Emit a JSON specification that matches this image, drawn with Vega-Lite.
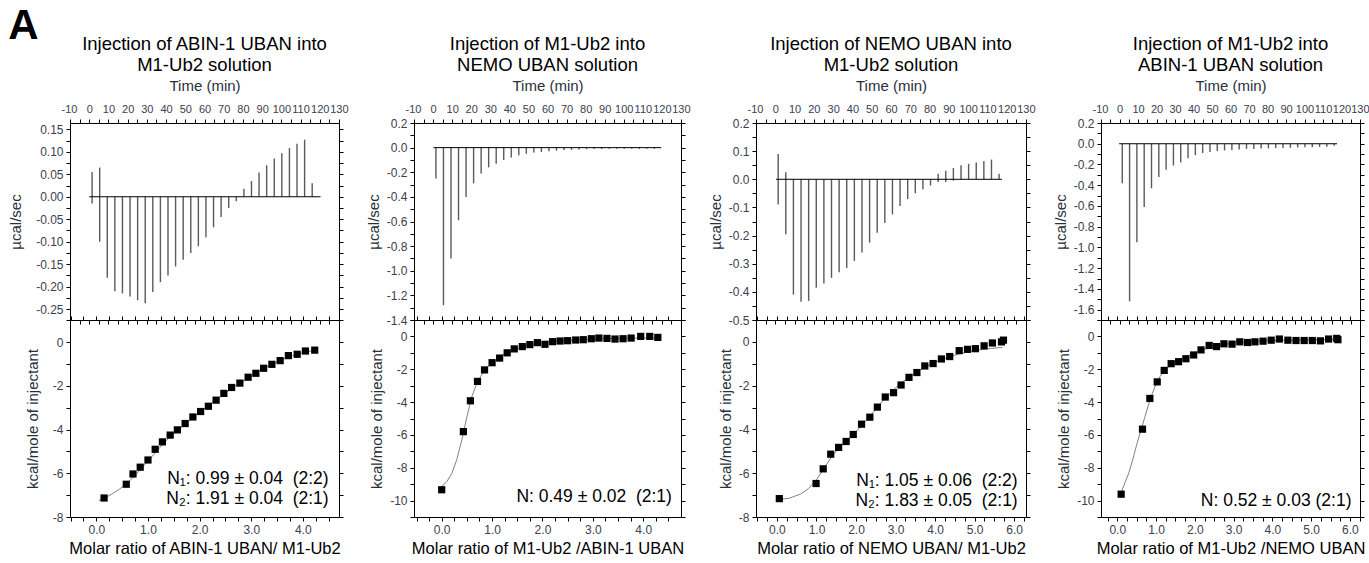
{
  "$schema": "https://vega.github.io/schema/vega-lite/v6.json",
  "background": "white",
  "padding": {"left": 8, "top": 5, "right": 0, "bottom": 2},
  "title": {"text": "A", "anchor": "start", "frame": "bounds", "fontSize": 42, "fontWeight": "bold", "font": "Liberation Sans", "color": "black", "offset": -14},
  "datasets": {
    "spk": [
      {"t": 1.5, "a_lo": -0.015, "a_hi": 0.055, "b_lo": -0.25, "b_hi": 0, "c_lo": -0.09, "c_hi": 0.09, "d_lo": -0.38, "d_hi": 0},
      {"t": 5.45, "a_lo": -0.1, "a_hi": 0.065, "b_lo": -1.28, "b_hi": 0, "c_lo": -0.195, "c_hi": 0.025, "d_lo": -1.52, "d_hi": 0},
      {"t": 9.4, "a_lo": -0.18, "a_hi": 0, "b_lo": -0.9, "b_hi": 0, "c_lo": -0.41, "c_hi": 0, "d_lo": -0.95, "d_hi": 0},
      {"t": 13.35, "a_lo": -0.21, "a_hi": 0, "b_lo": -0.59, "b_hi": 0, "c_lo": -0.435, "c_hi": 0, "d_lo": -0.61, "d_hi": 0},
      {"t": 17.3, "a_lo": -0.215, "a_hi": 0, "b_lo": -0.4, "b_hi": 0, "c_lo": -0.432, "c_hi": 0, "d_lo": -0.43, "d_hi": 0},
      {"t": 21.25, "a_lo": -0.222, "a_hi": 0, "b_lo": -0.29, "b_hi": 0, "c_lo": -0.385, "c_hi": 0, "d_lo": -0.32, "d_hi": 0},
      {"t": 25.2, "a_lo": -0.23, "a_hi": 0, "b_lo": -0.21, "b_hi": 0, "c_lo": -0.37, "c_hi": 0, "d_lo": -0.25, "d_hi": 0},
      {"t": 29.15, "a_lo": -0.237, "a_hi": 0, "b_lo": -0.16, "b_hi": 0, "c_lo": -0.35, "c_hi": 0, "d_lo": -0.21, "d_hi": 0},
      {"t": 33.1, "a_lo": -0.212, "a_hi": 0, "b_lo": -0.13, "b_hi": 0, "c_lo": -0.33, "c_hi": 0, "d_lo": -0.18, "d_hi": 0},
      {"t": 37.05, "a_lo": -0.19, "a_hi": 0, "b_lo": -0.1, "b_hi": 0, "c_lo": -0.315, "c_hi": 0, "d_lo": -0.14, "d_hi": 0},
      {"t": 41.0, "a_lo": -0.175, "a_hi": 0, "b_lo": -0.08, "b_hi": 0, "c_lo": -0.29, "c_hi": 0, "d_lo": -0.11, "d_hi": 0},
      {"t": 44.95, "a_lo": -0.155, "a_hi": 0, "b_lo": -0.062, "b_hi": 0, "c_lo": -0.26, "c_hi": 0, "d_lo": -0.09, "d_hi": 0},
      {"t": 48.9, "a_lo": -0.14, "a_hi": 0, "b_lo": -0.05, "b_hi": 0, "c_lo": -0.225, "c_hi": 0, "d_lo": -0.08, "d_hi": 0},
      {"t": 52.85, "a_lo": -0.125, "a_hi": 0, "b_lo": -0.04, "b_hi": 0, "c_lo": -0.19, "c_hi": 0, "d_lo": -0.07, "d_hi": 0},
      {"t": 56.8, "a_lo": -0.11, "a_hi": 0, "b_lo": -0.035, "b_hi": 0, "c_lo": -0.155, "c_hi": 0, "d_lo": -0.065, "d_hi": 0},
      {"t": 60.75, "a_lo": -0.09, "a_hi": 0, "b_lo": -0.03, "b_hi": 0, "c_lo": -0.125, "c_hi": 0, "d_lo": -0.06, "d_hi": 0},
      {"t": 64.7, "a_lo": -0.068, "a_hi": 0, "b_lo": -0.025, "b_hi": 0, "c_lo": -0.095, "c_hi": 0, "d_lo": -0.055, "d_hi": 0},
      {"t": 68.65, "a_lo": -0.045, "a_hi": 0, "b_lo": -0.02, "b_hi": 0, "c_lo": -0.07, "c_hi": 0, "d_lo": -0.05, "d_hi": 0},
      {"t": 72.6, "a_lo": -0.025, "a_hi": 0, "b_lo": -0.018, "b_hi": 0, "c_lo": -0.05, "c_hi": 0, "d_lo": -0.05, "d_hi": 0},
      {"t": 76.55, "a_lo": -0.01, "a_hi": 0, "b_lo": -0.015, "b_hi": 0, "c_lo": -0.035, "c_hi": 0, "d_lo": -0.045, "d_hi": 0},
      {"t": 80.5, "a_lo": 0, "a_hi": 0.018, "b_lo": -0.013, "b_hi": 0, "c_lo": -0.022, "c_hi": 0, "d_lo": -0.045, "d_hi": 0},
      {"t": 84.45, "a_lo": 0, "a_hi": 0.035, "b_lo": -0.012, "b_hi": 0, "c_lo": -0.01, "c_hi": 0.02, "d_lo": -0.04, "d_hi": 0},
      {"t": 88.4, "a_lo": 0, "a_hi": 0.054, "b_lo": -0.011, "b_hi": 0, "c_lo": -0.01, "c_hi": 0.03, "d_lo": -0.04, "d_hi": 0},
      {"t": 92.35, "a_lo": 0, "a_hi": 0.07, "b_lo": -0.01, "b_hi": 0, "c_lo": -0.005, "c_hi": 0.04, "d_lo": -0.04, "d_hi": 0},
      {"t": 96.3, "a_lo": 0, "a_hi": 0.085, "b_lo": -0.01, "b_hi": 0, "c_lo": 0, "c_hi": 0.05, "d_lo": -0.035, "d_hi": 0},
      {"t": 100.25, "a_lo": 0, "a_hi": 0.097, "b_lo": -0.01, "b_hi": 0, "c_lo": 0, "c_hi": 0.055, "d_lo": -0.035, "d_hi": 0},
      {"t": 104.2, "a_lo": 0, "a_hi": 0.108, "b_lo": -0.01, "b_hi": 0, "c_lo": 0, "c_hi": 0.06, "d_lo": -0.035, "d_hi": 0},
      {"t": 108.15, "a_lo": 0, "a_hi": 0.118, "b_lo": -0.01, "b_hi": 0, "c_lo": 0, "c_hi": 0.065, "d_lo": -0.03, "d_hi": 0},
      {"t": 112.1, "a_lo": 0, "a_hi": 0.127, "b_lo": -0.01, "b_hi": 0, "c_lo": 0, "c_hi": 0.07, "d_lo": -0.03, "d_hi": 0},
      {"t": 116.05, "a_lo": 0, "a_hi": 0.03, "b_lo": -0.01, "b_hi": 0, "c_lo": 0, "c_hi": 0.02, "d_lo": -0.02, "d_hi": 0}
    ],
    "base": [
      {"z": 0, "a0": 0, "a1": 120.4, "b0": 0.2, "b1": 119.6, "c0": 0.4, "c1": 117.6, "d0": -0.2, "d1": 117.6}
    ],
    "pts1": [
      {"x": 0.15, "y": -7.13}, {"x": 0.58, "y": -6.5}, {"x": 0.71, "y": -6.03}, {"x": 0.85, "y": -5.72},
      {"x": 1.0, "y": -5.39}, {"x": 1.14, "y": -4.9}, {"x": 1.28, "y": -4.56}, {"x": 1.43, "y": -4.25},
      {"x": 1.57, "y": -4.01}, {"x": 1.72, "y": -3.72}, {"x": 1.87, "y": -3.42}, {"x": 2.02, "y": -3.17},
      {"x": 2.17, "y": -2.93}, {"x": 2.32, "y": -2.65}, {"x": 2.47, "y": -2.34}, {"x": 2.62, "y": -2.07},
      {"x": 2.78, "y": -1.87}, {"x": 2.94, "y": -1.6}, {"x": 3.09, "y": -1.42}, {"x": 3.24, "y": -1.19},
      {"x": 3.4, "y": -1.01}, {"x": 3.56, "y": -0.84}, {"x": 3.72, "y": -0.61}, {"x": 3.89, "y": -0.55},
      {"x": 4.05, "y": -0.4}, {"x": 4.23, "y": -0.36}
    ],
    "fit1": [
      {"x": 0.05, "y": -7.25}, {"x": 0.15, "y": -7.15}, {"x": 0.3, "y": -6.95}, {"x": 0.45, "y": -6.72},
      {"x": 0.6, "y": -6.45}, {"x": 0.75, "y": -6.1}, {"x": 0.9, "y": -5.7}, {"x": 1.05, "y": -5.3},
      {"x": 1.2, "y": -4.9}, {"x": 1.35, "y": -4.5}, {"x": 1.5, "y": -4.2}, {"x": 1.65, "y": -3.9},
      {"x": 1.8, "y": -3.6}, {"x": 2.0, "y": -3.2}, {"x": 2.2, "y": -2.85}, {"x": 2.4, "y": -2.5},
      {"x": 2.6, "y": -2.15}, {"x": 2.8, "y": -1.85}, {"x": 3.0, "y": -1.55}, {"x": 3.2, "y": -1.25},
      {"x": 3.4, "y": -1.0}, {"x": 3.6, "y": -0.8}, {"x": 3.8, "y": -0.62}, {"x": 4.0, "y": -0.48},
      {"x": 4.25, "y": -0.35}
    ],
    "pts2": [
      {"x": 0.0, "y": -9.34}, {"x": 0.43, "y": -5.8}, {"x": 0.57, "y": -3.92}, {"x": 0.71, "y": -2.74},
      {"x": 0.85, "y": -2.04}, {"x": 1.0, "y": -1.6}, {"x": 1.15, "y": -1.32}, {"x": 1.3, "y": -1.0},
      {"x": 1.44, "y": -0.76}, {"x": 1.6, "y": -0.62}, {"x": 1.75, "y": -0.5}, {"x": 1.9, "y": -0.38},
      {"x": 2.05, "y": -0.48}, {"x": 2.2, "y": -0.32}, {"x": 2.35, "y": -0.28}, {"x": 2.5, "y": -0.26},
      {"x": 2.66, "y": -0.22}, {"x": 2.81, "y": -0.2}, {"x": 2.97, "y": -0.14}, {"x": 3.12, "y": -0.1},
      {"x": 3.28, "y": -0.12}, {"x": 3.44, "y": -0.16}, {"x": 3.6, "y": -0.14}, {"x": 3.76, "y": -0.1},
      {"x": 3.95, "y": 0.0}, {"x": 4.13, "y": 0.0}, {"x": 4.29, "y": -0.06}
    ],
    "fit2": [
      {"x": 0.0, "y": -9.15}, {"x": 0.1, "y": -8.85}, {"x": 0.2, "y": -8.35}, {"x": 0.3, "y": -7.5},
      {"x": 0.4, "y": -6.3}, {"x": 0.5, "y": -4.9}, {"x": 0.6, "y": -3.65}, {"x": 0.7, "y": -2.85},
      {"x": 0.8, "y": -2.3}, {"x": 0.9, "y": -1.9}, {"x": 1.0, "y": -1.6}, {"x": 1.2, "y": -1.15},
      {"x": 1.4, "y": -0.85}, {"x": 1.6, "y": -0.63}, {"x": 1.8, "y": -0.48}, {"x": 2.0, "y": -0.38},
      {"x": 2.5, "y": -0.24}, {"x": 3.0, "y": -0.16}, {"x": 3.5, "y": -0.12}, {"x": 4.0, "y": -0.09},
      {"x": 4.3, "y": -0.08}
    ],
    "pts3": [
      {"x": 0.06, "y": -7.16}, {"x": 0.99, "y": -6.47}, {"x": 1.17, "y": -5.8}, {"x": 1.36, "y": -5.13},
      {"x": 1.56, "y": -4.82}, {"x": 1.75, "y": -4.55}, {"x": 1.93, "y": -4.23}, {"x": 2.14, "y": -3.76},
      {"x": 2.35, "y": -3.44}, {"x": 2.54, "y": -2.98}, {"x": 2.74, "y": -2.52}, {"x": 2.95, "y": -2.32},
      {"x": 3.14, "y": -1.97}, {"x": 3.34, "y": -1.62}, {"x": 3.54, "y": -1.4}, {"x": 3.74, "y": -1.1},
      {"x": 3.95, "y": -0.99}, {"x": 4.16, "y": -0.78}, {"x": 4.37, "y": -0.67}, {"x": 4.61, "y": -0.4},
      {"x": 4.82, "y": -0.34}, {"x": 5.02, "y": -0.31}, {"x": 5.24, "y": -0.18}, {"x": 5.45, "y": -0.05},
      {"x": 5.68, "y": 0.0}, {"x": 5.73, "y": 0.08}
    ],
    "fit3": [
      {"x": 0.0, "y": -7.2}, {"x": 0.3, "y": -7.15}, {"x": 0.6, "y": -6.95}, {"x": 0.8, "y": -6.7},
      {"x": 1.0, "y": -6.3}, {"x": 1.2, "y": -5.75}, {"x": 1.4, "y": -5.2}, {"x": 1.6, "y": -4.8},
      {"x": 1.8, "y": -4.45}, {"x": 2.0, "y": -4.1}, {"x": 2.2, "y": -3.7}, {"x": 2.4, "y": -3.3},
      {"x": 2.6, "y": -2.85}, {"x": 2.8, "y": -2.45}, {"x": 3.0, "y": -2.1}, {"x": 3.2, "y": -1.8},
      {"x": 3.4, "y": -1.55}, {"x": 3.6, "y": -1.3}, {"x": 3.8, "y": -1.1}, {"x": 4.0, "y": -0.93},
      {"x": 4.3, "y": -0.72}, {"x": 4.6, "y": -0.55}, {"x": 5.0, "y": -0.4}, {"x": 5.4, "y": -0.3},
      {"x": 5.7, "y": -0.25}
    ],
    "pts4": [
      {"x": 0.1, "y": -9.61}, {"x": 0.65, "y": -5.65}, {"x": 0.84, "y": -3.78}, {"x": 1.03, "y": -2.77},
      {"x": 1.21, "y": -2.07}, {"x": 1.39, "y": -1.66}, {"x": 1.58, "y": -1.54}, {"x": 1.77, "y": -1.36},
      {"x": 1.97, "y": -1.13}, {"x": 2.16, "y": -0.82}, {"x": 2.37, "y": -0.55}, {"x": 2.56, "y": -0.62},
      {"x": 2.75, "y": -0.45}, {"x": 2.96, "y": -0.47}, {"x": 3.16, "y": -0.33}, {"x": 3.36, "y": -0.37},
      {"x": 3.55, "y": -0.33}, {"x": 3.76, "y": -0.29}, {"x": 3.97, "y": -0.23}, {"x": 4.18, "y": -0.16},
      {"x": 4.4, "y": -0.23}, {"x": 4.61, "y": -0.25}, {"x": 4.82, "y": -0.25}, {"x": 5.03, "y": -0.25},
      {"x": 5.24, "y": -0.27}, {"x": 5.45, "y": -0.16}, {"x": 5.66, "y": -0.12}, {"x": 5.69, "y": -0.2}
    ],
    "fit4": [
      {"x": 0.1, "y": -9.5}, {"x": 0.2, "y": -8.9}, {"x": 0.3, "y": -8.3}, {"x": 0.4, "y": -7.5},
      {"x": 0.5, "y": -6.6}, {"x": 0.6, "y": -5.8}, {"x": 0.7, "y": -5.0}, {"x": 0.8, "y": -4.2},
      {"x": 0.9, "y": -3.5}, {"x": 1.0, "y": -2.9}, {"x": 1.1, "y": -2.45}, {"x": 1.2, "y": -2.1},
      {"x": 1.4, "y": -1.7}, {"x": 1.6, "y": -1.4}, {"x": 1.8, "y": -1.2}, {"x": 2.0, "y": -1.0},
      {"x": 2.3, "y": -0.75}, {"x": 2.6, "y": -0.55}, {"x": 3.0, "y": -0.4}, {"x": 3.5, "y": -0.3},
      {"x": 4.0, "y": -0.25}, {"x": 5.0, "y": -0.2}, {"x": 5.7, "y": -0.18}
    ],
    "note1": [
      {"x": 4.5, "y": -6.27, "label": "N₁: 0.99 ± 0.04\u00a0\u00a0(2:2)"},
      {"x": 4.5, "y": -7.19, "label": "N₂: 1.91 ± 0.04\u00a0\u00a0(2:1)"}
    ],
    "note2": [
      {"x": 4.57, "y": -9.8, "label": "N: 0.49 ± 0.02\u00a0\u00a0(2:1)"}
    ],
    "note3": [
      {"x": 6.09, "y": -6.37, "label": "N₁: 1.05 ± 0.06\u00a0\u00a0(2:2)"},
      {"x": 6.09, "y": -7.28, "label": "N₂: 1.83 ± 0.05\u00a0\u00a0(2:1)"}
    ],
    "note4": [
      {"x": 6.04, "y": -10.0, "label": "N: 0.52 ± 0.03 (2:1)"}
    ]
  },
  "spacing": 16,
  "hconcat": [
    {
      "spacing": 0, "bounds": "flush",
      "vconcat": [
        {
          "width": 269, "height": 197,
          "title": {"text": ["Injection of ABIN-1 UBAN into", "M1-Ub2 solution"]},
          "layer": [
            {"data": {"name": "spk"}, "mark": {"type": "rule", "color": "#5a5a5a", "strokeWidth": 1.4},
             "encoding": {
               "x": {"field": "t", "type": "quantitative", "scale": {"domain": [-10, 130]}, "axis": {"orient": "top", "title": "Time (min)", "values": [-10,-5,0,5,10,15,20,25,30,35,40,45,50,55,60,65,70,75,80,85,90,95,100,105,110,115,120,125,130], "format": "d", "labelExpr": "datum.value % 10 === 0 ? replace(datum.label, '−', '-') : ''", "labelFlush": true, "labelFlushOffset": 9, "labelFontSize": 11, "titleFontSize": 15, "titlePadding": 10, "labelPadding": 5}},
               "y": {"field": "a_lo", "type": "quantitative", "scale": {"domain": [-0.274, 0.164]}, "axis": {"orient": "left", "title": "µcal/sec", "titlePadding": 12, "values": [-0.25,-0.225,-0.2,-0.175,-0.15,-0.125,-0.1,-0.075,-0.05,-0.025,0,0.025,0.05,0.075,0.1,0.125,0.15], "labelExpr": "abs(round(datum.value*1000)) % 50 === 0 ? replace(format(datum.value, '.2f'), '−', '-') : ''"}},
               "y2": {"field": "a_hi"}
             }},
            {"data": {"name": "base"}, "mark": {"type": "rule", "color": "black", "strokeWidth": 1},
             "encoding": {
               "x": {"field": "a0", "type": "quantitative", "scale": {"domain": [-10, 130]}, "axis": {"orient": "bottom", "title": null, "labels": false, "values": [-10,-5,0,5,10,15,20,25,30,35,40,45,50,55,60,65,70,75,80,85,90,95,100,105,110,115,120,125,130]}},
               "x2": {"field": "a1"},
               "y": {"field": "z", "type": "quantitative", "scale": {"domain": [-0.274, 0.164]}, "axis": {"orient": "right", "title": null, "labels": false, "values": [-0.25,-0.225,-0.2,-0.175,-0.15,-0.125,-0.1,-0.075,-0.05,-0.025,0,0.025,0.05,0.075,0.1,0.125,0.15]}}
             }}
          ],
          "resolve": {"axis": {"x": "independent", "y": "independent"}}
        },
        {
          "width": 269, "height": 197,
          "layer": [
            {"data": {"name": "fit1"}, "mark": {"type": "line", "color": "#808080", "strokeWidth": 1},
             "encoding": {
               "x": {"field": "x", "type": "quantitative", "scale": {"domain": [-0.51, 4.7]}, "axis": {"orient": "bottom", "title": "Molar ratio of ABIN-1 UBAN/ M1-Ub2", "titleFontSize": 16.5, "titleColor": "black", "values": [-0.5,-0.25,0,0.25,0.5,0.75,1,1.25,1.5,1.75,2,2.25,2.5,2.75,3,3.25,3.5,3.75,4,4.25,4.5], "labelExpr": "datum.value >= 0 && abs(round(datum.value*100)) % 100 === 0 ? format(datum.value, '.1f') : ''"}},
               "y": {"field": "y", "type": "quantitative", "scale": {"domain": [-8, 1.02]}, "axis": {"orient": "left", "title": "kcal/mole of injectant", "titlePadding": 12, "values": [-8,-7,-6,-5,-4,-3,-2,-1,0,1], "labelExpr": "datum.value % 2 === 0 ? replace(format(datum.value, 'd'), '−', '-') : ''"}}
             }},
            {"data": {"name": "pts1"}, "mark": {"type": "point", "shape": "square", "filled": true, "color": "black", "size": 52, "opacity": 1},
             "encoding": {
               "x": {"field": "x", "type": "quantitative", "scale": {"domain": [-0.51, 4.7]}, "axis": {"orient": "top", "title": null, "labels": false, "values": [-0.5,-0.25,0,0.25,0.5,0.75,1,1.25,1.5,1.75,2,2.25,2.5,2.75,3,3.25,3.5,3.75,4,4.25,4.5]}},
               "y": {"field": "y", "type": "quantitative", "scale": {"domain": [-8, 1.02]}, "axis": {"orient": "right", "title": null, "labels": false, "values": [-8,-7,-6,-5,-4,-3,-2,-1,0,1]}}
             }},
            {"data": {"name": "note1"}, "mark": {"type": "text", "align": "right", "baseline": "middle", "fontSize": 17.5, "font": "Liberation Sans", "color": "black"},
             "encoding": {
               "x": {"field": "x", "type": "quantitative", "scale": {"domain": [-0.51, 4.7]}, "axis": null},
               "y": {"field": "y", "type": "quantitative", "scale": {"domain": [-8, 1.02]}, "axis": null},
               "text": {"field": "label"}
             }}
          ],
          "resolve": {"axis": {"x": "independent", "y": "independent"}}
        }
      ]
    },
    {
      "spacing": 0, "bounds": "flush",
      "vconcat": [
        {
          "width": 267, "height": 197,
          "title": {"text": ["Injection of M1-Ub2 into", "NEMO UBAN solution"]},
          "layer": [
            {"data": {"name": "spk"}, "mark": {"type": "rule", "color": "#5a5a5a", "strokeWidth": 1.4},
             "encoding": {
               "x": {"field": "t", "type": "quantitative", "scale": {"domain": [-10, 130]}, "axis": {"orient": "top", "title": "Time (min)", "values": [-10,-5,0,5,10,15,20,25,30,35,40,45,50,55,60,65,70,75,80,85,90,95,100,105,110,115,120,125,130], "format": "d", "labelExpr": "datum.value % 10 === 0 ? replace(datum.label, '−', '-') : ''", "labelFlush": true, "labelFlushOffset": 9, "labelFontSize": 11, "titleFontSize": 15, "titlePadding": 10, "labelPadding": 5}},
               "y": {"field": "b_lo", "type": "quantitative", "scale": {"domain": [-1.4, 0.2]}, "axis": {"orient": "left", "title": "µcal/sec", "values": [-1.4,-1.3,-1.2,-1.1,-1,-0.9,-0.8,-0.7,-0.6,-0.5,-0.4,-0.3,-0.2,-0.1,0,0.1,0.2], "labelExpr": "abs(round(datum.value*10)) % 2 === 0 ? replace(format(datum.value, '.1f'), '−', '-') : ''"}},
               "y2": {"field": "b_hi"}
             }},
            {"data": {"name": "base"}, "mark": {"type": "rule", "color": "black", "strokeWidth": 1},
             "encoding": {
               "x": {"field": "b0", "type": "quantitative", "scale": {"domain": [-10, 130]}, "axis": {"orient": "bottom", "title": null, "labels": false, "values": [-10,-5,0,5,10,15,20,25,30,35,40,45,50,55,60,65,70,75,80,85,90,95,100,105,110,115,120,125,130]}},
               "x2": {"field": "b1"},
               "y": {"field": "z", "type": "quantitative", "scale": {"domain": [-1.4, 0.2]}, "axis": {"orient": "right", "title": null, "labels": false, "values": [-1.4,-1.3,-1.2,-1.1,-1,-0.9,-0.8,-0.7,-0.6,-0.5,-0.4,-0.3,-0.2,-0.1,0,0.1,0.2]}}
             }}
          ],
          "resolve": {"axis": {"x": "independent", "y": "independent"}}
        },
        {
          "width": 267, "height": 197,
          "layer": [
            {"data": {"name": "fit2"}, "mark": {"type": "line", "color": "#808080", "strokeWidth": 1},
             "encoding": {
               "x": {"field": "x", "type": "quantitative", "scale": {"domain": [-0.55, 4.75]}, "axis": {"orient": "bottom", "title": "Molar ratio of M1-Ub2 /ABIN-1 UBAN", "titleFontSize": 16.5, "titleColor": "black", "values": [-0.5,-0.25,0,0.25,0.5,0.75,1,1.25,1.5,1.75,2,2.25,2.5,2.75,3,3.25,3.5,3.75,4,4.25,4.5], "labelExpr": "datum.value >= 0 && abs(round(datum.value*100)) % 100 === 0 ? format(datum.value, '.1f') : ''"}},
               "y": {"field": "y", "type": "quantitative", "scale": {"domain": [-11, 1]}, "axis": {"orient": "left", "title": "kcal/mole of injectant", "values": [-11,-10,-9,-8,-7,-6,-5,-4,-3,-2,-1,0,1], "labelExpr": "datum.value % 2 === 0 ? replace(format(datum.value, 'd'), '−', '-') : ''"}}
             }},
            {"data": {"name": "pts2"}, "mark": {"type": "point", "shape": "square", "filled": true, "color": "black", "size": 52, "opacity": 1},
             "encoding": {
               "x": {"field": "x", "type": "quantitative", "scale": {"domain": [-0.55, 4.75]}, "axis": {"orient": "top", "title": null, "labels": false, "values": [-0.5,-0.25,0,0.25,0.5,0.75,1,1.25,1.5,1.75,2,2.25,2.5,2.75,3,3.25,3.5,3.75,4,4.25,4.5]}},
               "y": {"field": "y", "type": "quantitative", "scale": {"domain": [-11, 1]}, "axis": {"orient": "right", "title": null, "labels": false, "values": [-11,-10,-9,-8,-7,-6,-5,-4,-3,-2,-1,0,1]}}
             }},
            {"data": {"name": "note2"}, "mark": {"type": "text", "align": "right", "baseline": "middle", "fontSize": 17.5, "font": "Liberation Sans", "color": "black"},
             "encoding": {
               "x": {"field": "x", "type": "quantitative", "scale": {"domain": [-0.55, 4.75]}, "axis": null},
               "y": {"field": "y", "type": "quantitative", "scale": {"domain": [-11, 1]}, "axis": null},
               "text": {"field": "label"}
             }}
          ],
          "resolve": {"axis": {"x": "independent", "y": "independent"}}
        }
      ]
    },
    {
      "spacing": 0, "bounds": "flush",
      "vconcat": [
        {
          "width": 270, "height": 197,
          "title": {"text": ["Injection of NEMO UBAN into", "M1-Ub2 solution"]},
          "layer": [
            {"data": {"name": "spk"}, "mark": {"type": "rule", "color": "#5a5a5a", "strokeWidth": 1.4},
             "encoding": {
               "x": {"field": "t", "type": "quantitative", "scale": {"domain": [-10, 130]}, "axis": {"orient": "top", "title": "Time (min)", "values": [-10,-5,0,5,10,15,20,25,30,35,40,45,50,55,60,65,70,75,80,85,90,95,100,105,110,115,120,125,130], "format": "d", "labelExpr": "datum.value % 10 === 0 ? replace(datum.label, '−', '-') : ''", "labelFlush": true, "labelFlushOffset": 9, "labelFontSize": 11, "titleFontSize": 15, "titlePadding": 10, "labelPadding": 5}},
               "y": {"field": "c_lo", "type": "quantitative", "scale": {"domain": [-0.5, 0.2]}, "axis": {"orient": "left", "title": "µcal/sec", "values": [-0.5,-0.45,-0.4,-0.35,-0.3,-0.25,-0.2,-0.15,-0.1,-0.05,0,0.05,0.1,0.15,0.2], "labelExpr": "abs(round(datum.value*100)) % 10 === 0 ? replace(format(datum.value, '.1f'), '−', '-') : ''"}},
               "y2": {"field": "c_hi"}
             }},
            {"data": {"name": "base"}, "mark": {"type": "rule", "color": "black", "strokeWidth": 1},
             "encoding": {
               "x": {"field": "c0", "type": "quantitative", "scale": {"domain": [-10, 130]}, "axis": {"orient": "bottom", "title": null, "labels": false, "values": [-10,-5,0,5,10,15,20,25,30,35,40,45,50,55,60,65,70,75,80,85,90,95,100,105,110,115,120,125,130]}},
               "x2": {"field": "c1"},
               "y": {"field": "z", "type": "quantitative", "scale": {"domain": [-0.5, 0.2]}, "axis": {"orient": "right", "title": null, "labels": false, "values": [-0.5,-0.45,-0.4,-0.35,-0.3,-0.25,-0.2,-0.15,-0.1,-0.05,0,0.05,0.1,0.15,0.2]}}
             }}
          ],
          "resolve": {"axis": {"x": "independent", "y": "independent"}}
        },
        {
          "width": 270, "height": 197,
          "layer": [
            {"data": {"name": "fit3"}, "mark": {"type": "line", "color": "#808080", "strokeWidth": 1},
             "encoding": {
               "x": {"field": "x", "type": "quantitative", "scale": {"domain": [-0.53, 6.3]}, "axis": {"orient": "bottom", "title": "Molar ratio of NEMO UBAN/ M1-Ub2", "titleFontSize": 16.5, "titleColor": "black", "values": [-0.5,-0.25,0,0.25,0.5,0.75,1,1.25,1.5,1.75,2,2.25,2.5,2.75,3,3.25,3.5,3.75,4,4.25,4.5,4.75,5,5.25,5.5,5.75,6,6.25], "labelExpr": "datum.value >= 0 && abs(round(datum.value*100)) % 100 === 0 ? format(datum.value, '.1f') : ''"}},
               "y": {"field": "y", "type": "quantitative", "scale": {"domain": [-8, 1]}, "axis": {"orient": "left", "title": "kcal/mole of injectant", "values": [-8,-7,-6,-5,-4,-3,-2,-1,0,1], "labelExpr": "datum.value % 2 === 0 ? replace(format(datum.value, 'd'), '−', '-') : ''"}}
             }},
            {"data": {"name": "pts3"}, "mark": {"type": "point", "shape": "square", "filled": true, "color": "black", "size": 52, "opacity": 1},
             "encoding": {
               "x": {"field": "x", "type": "quantitative", "scale": {"domain": [-0.53, 6.3]}, "axis": {"orient": "top", "title": null, "labels": false, "values": [-0.5,-0.25,0,0.25,0.5,0.75,1,1.25,1.5,1.75,2,2.25,2.5,2.75,3,3.25,3.5,3.75,4,4.25,4.5,4.75,5,5.25,5.5,5.75,6,6.25]}},
               "y": {"field": "y", "type": "quantitative", "scale": {"domain": [-8, 1]}, "axis": {"orient": "right", "title": null, "labels": false, "values": [-8,-7,-6,-5,-4,-3,-2,-1,0,1]}}
             }},
            {"data": {"name": "note3"}, "mark": {"type": "text", "align": "right", "baseline": "middle", "fontSize": 17.5, "font": "Liberation Sans", "color": "black"},
             "encoding": {
               "x": {"field": "x", "type": "quantitative", "scale": {"domain": [-0.53, 6.3]}, "axis": null},
               "y": {"field": "y", "type": "quantitative", "scale": {"domain": [-8, 1]}, "axis": null},
               "text": {"field": "label"}
             }}
          ],
          "resolve": {"axis": {"x": "independent", "y": "independent"}}
        }
      ]
    },
    {
      "spacing": 0, "bounds": "flush",
      "vconcat": [
        {
          "width": 259, "height": 197,
          "title": {"text": ["Injection of M1-Ub2 into", "ABIN-1 UBAN solution"]},
          "layer": [
            {"data": {"name": "spk"}, "mark": {"type": "rule", "color": "#5a5a5a", "strokeWidth": 1.4},
             "encoding": {
               "x": {"field": "t", "type": "quantitative", "scale": {"domain": [-10, 130]}, "axis": {"orient": "top", "title": "Time (min)", "values": [-10,-5,0,5,10,15,20,25,30,35,40,45,50,55,60,65,70,75,80,85,90,95,100,105,110,115,120,125,130], "format": "d", "labelExpr": "datum.value % 10 === 0 ? replace(datum.label, '−', '-') : ''", "labelFlush": true, "labelFlushOffset": 9, "labelFontSize": 11, "titleFontSize": 15, "titlePadding": 10, "labelPadding": 5}},
               "y": {"field": "d_lo", "type": "quantitative", "scale": {"domain": [-1.7, 0.2]}, "axis": {"orient": "left", "title": "µcal/sec", "values": [-1.7,-1.6,-1.5,-1.4,-1.3,-1.2,-1.1,-1,-0.9,-0.8,-0.7,-0.6,-0.5,-0.4,-0.3,-0.2,-0.1,0,0.1,0.2], "labelExpr": "abs(round(datum.value*10)) % 2 === 0 ? replace(format(datum.value, '.1f'), '−', '-') : ''"}},
               "y2": {"field": "d_hi"}
             }},
            {"data": {"name": "base"}, "mark": {"type": "rule", "color": "black", "strokeWidth": 1},
             "encoding": {
               "x": {"field": "d0", "type": "quantitative", "scale": {"domain": [-10, 130]}, "axis": {"orient": "bottom", "title": null, "labels": false, "values": [-10,-5,0,5,10,15,20,25,30,35,40,45,50,55,60,65,70,75,80,85,90,95,100,105,110,115,120,125,130]}},
               "x2": {"field": "d1"},
               "y": {"field": "z", "type": "quantitative", "scale": {"domain": [-1.7, 0.2]}, "axis": {"orient": "right", "title": null, "labels": false, "values": [-1.7,-1.6,-1.5,-1.4,-1.3,-1.2,-1.1,-1,-0.9,-0.8,-0.7,-0.6,-0.5,-0.4,-0.3,-0.2,-0.1,0,0.1,0.2]}}
             }}
          ],
          "resolve": {"axis": {"x": "independent", "y": "independent"}}
        },
        {
          "width": 259, "height": 197,
          "layer": [
            {"data": {"name": "fit4"}, "mark": {"type": "line", "color": "#808080", "strokeWidth": 1},
             "encoding": {
               "x": {"field": "x", "type": "quantitative", "scale": {"domain": [-0.42, 6.26]}, "axis": {"orient": "bottom", "title": "Molar ratio of M1-Ub2 /NEMO UBAN", "titleFontSize": 16.5, "titleColor": "black", "values": [-0.25,0,0.25,0.5,0.75,1,1.25,1.5,1.75,2,2.25,2.5,2.75,3,3.25,3.5,3.75,4,4.25,4.5,4.75,5,5.25,5.5,5.75,6,6.25], "labelExpr": "datum.value >= 0 && abs(round(datum.value*100)) % 100 === 0 ? format(datum.value, '.1f') : ''"}},
               "y": {"field": "y", "type": "quantitative", "scale": {"domain": [-11, 1]}, "axis": {"orient": "left", "title": "kcal/mole of injectant", "values": [-11,-10,-9,-8,-7,-6,-5,-4,-3,-2,-1,0,1], "labelExpr": "datum.value % 2 === 0 ? replace(format(datum.value, 'd'), '−', '-') : ''"}}
             }},
            {"data": {"name": "pts4"}, "mark": {"type": "point", "shape": "square", "filled": true, "color": "black", "size": 52, "opacity": 1},
             "encoding": {
               "x": {"field": "x", "type": "quantitative", "scale": {"domain": [-0.42, 6.26]}, "axis": {"orient": "top", "title": null, "labels": false, "values": [-0.25,0,0.25,0.5,0.75,1,1.25,1.5,1.75,2,2.25,2.5,2.75,3,3.25,3.5,3.75,4,4.25,4.5,4.75,5,5.25,5.5,5.75,6,6.25]}},
               "y": {"field": "y", "type": "quantitative", "scale": {"domain": [-11, 1]}, "axis": {"orient": "right", "title": null, "labels": false, "values": [-11,-10,-9,-8,-7,-6,-5,-4,-3,-2,-1,0,1]}}
             }},
            {"data": {"name": "note4"}, "mark": {"type": "text", "align": "right", "baseline": "middle", "fontSize": 17.5, "font": "Liberation Sans", "color": "black"},
             "encoding": {
               "x": {"field": "x", "type": "quantitative", "scale": {"domain": [-0.42, 6.26]}, "axis": null},
               "y": {"field": "y", "type": "quantitative", "scale": {"domain": [-11, 1]}, "axis": null},
               "text": {"field": "label"}
             }}
          ],
          "resolve": {"axis": {"x": "independent", "y": "independent"}}
        }
      ]
    }
  ],
  "config": {
    "font": "Liberation Sans",
    "view": {"stroke": "black", "strokeWidth": 1},
    "axis": {
      "domain": false, "grid": false, "tickColor": "black", "tickSize": 4, "tickWidth": 1,
      "labelFont": "Liberation Sans", "labelFontSize": 12, "labelColor": "#3a4050", "labelPadding": 3,
      "labelOverlap": false, "labelFlush": false, "labelBound": false,
      "titleFont": "Liberation Sans", "titleFontSize": 15, "titleFontWeight": "normal", "titleColor": "#2a2f3a", "titlePadding": 5
    },
    "title": {"font": "Liberation Sans", "fontSize": 18.5, "fontWeight": "normal", "color": "black", "anchor": "middle", "frame": "group", "lineHeight": 21, "offset": 4}
  }
}
